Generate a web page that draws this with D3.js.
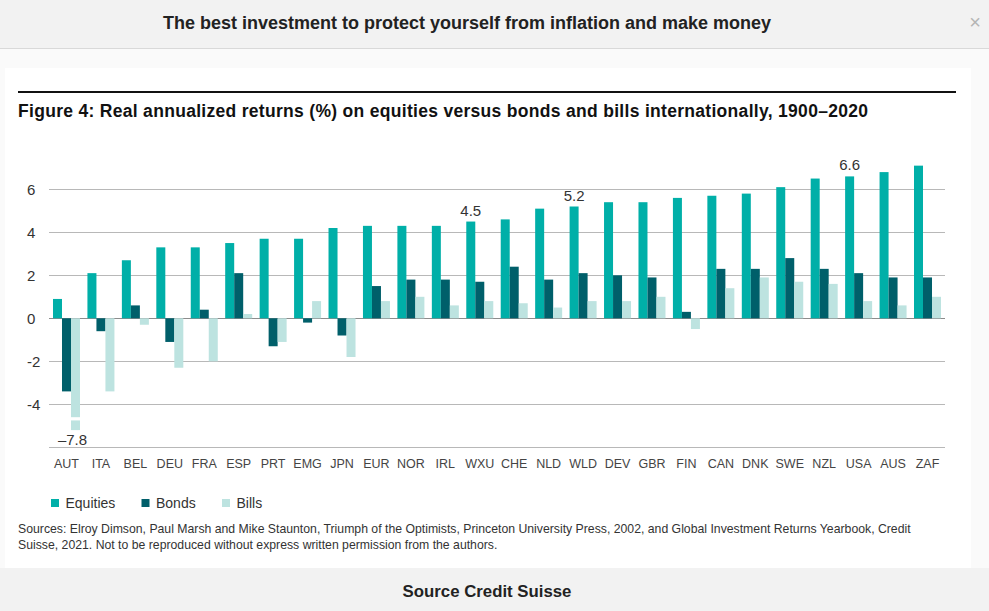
<!DOCTYPE html>
<html>
<head>
<meta charset="utf-8">
<script src="https://cdn.jsdelivr.net/npm/d3@7"></script>
<style>
  html, body { margin: 0; padding: 0; background: #f3f3f3; }
  svg { display: block; }
  text { font-family: "Liberation Sans", Arial, Helvetica, sans-serif; }
</style>
</head>
<body>
<svg id="chart" width="989" height="611"></svg>
<script>
const categories = ["AUT","ITA","BEL","DEU","FRA","ESP","PRT","EMG","JPN","EUR","NOR","IRL","WXU","CHE","NLD","WLD","DEV","GBR","FIN","CAN","DNK","SWE","NZL","USA","AUS","ZAF"];
const seriesNames = ["Equities","Bonds","Bills"];
const equities = [0.9,2.1,2.7,3.3,3.3,3.5,3.7,3.7,4.2,4.3,4.3,4.3,4.5,4.6,5.1,5.2,5.4,5.4,5.6,5.7,5.8,6.1,6.5,6.6,6.8,7.1];
const bonds    = [-3.4,-0.6,0.6,-1.1,0.4,2.1,-1.3,-0.2,-0.8,1.5,1.8,1.8,1.7,2.4,1.8,2.1,2.0,1.9,0.3,2.3,2.3,2.8,2.3,2.1,1.9,1.9];
const bills    = [-7.8,-3.4,-0.3,-2.3,-2.0,0.2,-1.1,0.8,-1.8,0.8,1.0,0.6,0.8,0.7,0.5,0.8,0.8,1.0,-0.5,1.4,1.9,1.7,1.6,0.8,0.6,1.0];
const colors = ["#00afa8","#005f6a","#bde3e0"];
const yTicks = [6,4,2,0,-2,-4];
const gridValues = [6,4,2,0,-2,-4,-6];
const valueLabels = [
  {cat:"AUT", series:"Bills", text:"\u20137.8"},
  {cat:"WXU", series:"Equities", text:"4.5"},
  {cat:"WLD", series:"Equities", text:"5.2"},
  {cat:"USA", series:"Equities", text:"6.6"}
];
// axis break for values beyond the plotted floor
const axisFloor = -5.2;
const breakGap = [-4.6, -4.75];

const headerTitle = "The best investment to protect yourself from inflation and make money";
const figTitle = "Figure 4: Real annualized returns (%) on equities versus bonds and bills internationally, 1900\u20132020";
const sourceLines = [
  "Sources: Elroy Dimson, Paul Marsh and Mike Staunton, Triumph of the Optimists, Princeton University Press, 2002, and Global Investment Returns Yearbook, Credit",
  "Suisse, 2021. Not to be reproduced without express written permission from the authors."
];
const footer = "Source Credit Suisse";

const seriesData = [equities, bonds, bills];
const svg = d3.select("#chart");

// page chrome
svg.append("rect").attr("x",0).attr("y",0).attr("width",989).attr("height",48).attr("fill","#f2f2f2");
svg.append("line").attr("x1",0).attr("x2",989).attr("y1",48.5).attr("y2",48.5).attr("stroke","#d9d9d9");
svg.append("rect").attr("x",0).attr("y",49).attr("width",989).attr("height",519).attr("fill","#fafafa");
svg.append("rect").attr("x",5).attr("y",68).attr("width",966).attr("height",500).attr("fill","#ffffff");
svg.append("rect").attr("x",0).attr("y",568).attr("width",989).attr("height",43).attr("fill","#f2f2f2");

svg.append("text").attr("x",467).attr("y",29).attr("text-anchor","middle")
  .attr("font-size",18).attr("font-weight","bold").attr("fill","#222").text(headerTitle);
svg.append("text").attr("x",975).attr("y",29).attr("text-anchor","middle")
  .attr("font-size",20).attr("fill","#b5b5b5").text("\u00d7");

svg.append("rect").attr("x",18).attr("y",91).attr("width",938).attr("height",2).attr("fill","#111");
svg.append("text").attr("x",18).attr("y",117).attr("font-size",17.5).attr("font-weight","bold")
  .attr("textLength",850).attr("lengthAdjust","spacing")
  .attr("fill","#111").text(figTitle);

// scales
const x0 = d3.scaleBand().domain(categories).range([49,945]).paddingInner(0.216).paddingOuter(0.116);
const x1 = d3.scaleBand().domain(seriesNames).range([0, x0.bandwidth()]);
const y = d3.scaleLinear().domain([-6,6]).range([447.3,189.3]);

// grid
svg.append("g").selectAll("line").data(gridValues).join("line")
  .attr("x1",49).attr("x2",945)
  .attr("y1",d=>Math.round(y(d))+0.5).attr("y2",d=>Math.round(y(d))+0.5)
  .attr("stroke", d=> d===0 ? "#8c8c8c" : "#b8b8b8").attr("stroke-width",1);

// y labels
svg.append("g").selectAll("text").data(yTicks).join("text")
  .attr("x",27).attr("y",d=>y(d)).attr("dy","0.36em")
  .attr("font-size",15).attr("fill","#333").text(d=>String(d));

// bars
const flat = [];
categories.forEach((c,i)=>seriesNames.forEach((s,j)=>flat.push({cat:c, series:s, v:seriesData[j][i], j})));
svg.append("g").selectAll("rect").data(flat).join("rect")
  .attr("x",d=>x0(d.cat)+x1(d.series))
  .attr("width",x1.bandwidth())
  .attr("y",d=>y(Math.max(0,d.v)))
  .attr("height",d=>Math.abs(y(Math.max(d.v,axisFloor))-y(0)))
  .attr("fill",d=>colors[d.j]);

// axis break marks
svg.append("g").selectAll("rect").data(flat.filter(d=>d.v<axisFloor)).join("rect")
  .attr("x",d=>x0(d.cat)+x1(d.series)-1)
  .attr("width",x1.bandwidth()+2)
  .attr("y",y(breakGap[0]))
  .attr("height",y(breakGap[1])-y(breakGap[0]))
  .attr("fill","#ffffff");

// value labels
svg.append("g").selectAll("text").data(valueLabels).join("text")
  .attr("x",d=>x0(d.cat)+x1(d.series)+x1.bandwidth()/2 - (d.series==="Bills"?3:0))
  .attr("y",d=>{
    const v = seriesData[seriesNames.indexOf(d.series)][categories.indexOf(d.cat)];
    return v<0 ? y(axisFloor)+15 : y(v)-6;
  })
  .attr("text-anchor","middle").attr("font-size",15).attr("fill","#333").text(d=>d.text);

// x labels
svg.append("g").selectAll("text").data(categories).join("text")
  .attr("x",d=>x0(d)+x0.bandwidth()/2).attr("y",468)
  .attr("text-anchor","middle").attr("font-size",12.5).attr("fill","#444").text(d=>d);

// legend
const legendX = [51,141.5,222];
const lg = svg.append("g").selectAll("g").data(seriesNames).join("g")
  .attr("transform",(d,i)=>`translate(${legendX[i]},499)`);
lg.append("rect").attr("width",8).attr("height",8).attr("fill",(d,i)=>colors[i]);
lg.append("text").attr("x",14.5).attr("y",4).attr("dy","0.36em")
  .attr("font-size",14).attr("fill","#333").text(d=>d);

// sources
svg.append("g").selectAll("text").data(sourceLines).join("text")
  .attr("x",18).attr("y",(d,i)=>533+i*16)
  .attr("font-size",12.25).attr("fill","#333").text(d=>d);

svg.append("text").attr("x",487).attr("y",597).attr("text-anchor","middle")
  .attr("font-size",16.8).attr("font-weight","bold").attr("fill","#222").text(footer);
</script>
</body>
</html>
